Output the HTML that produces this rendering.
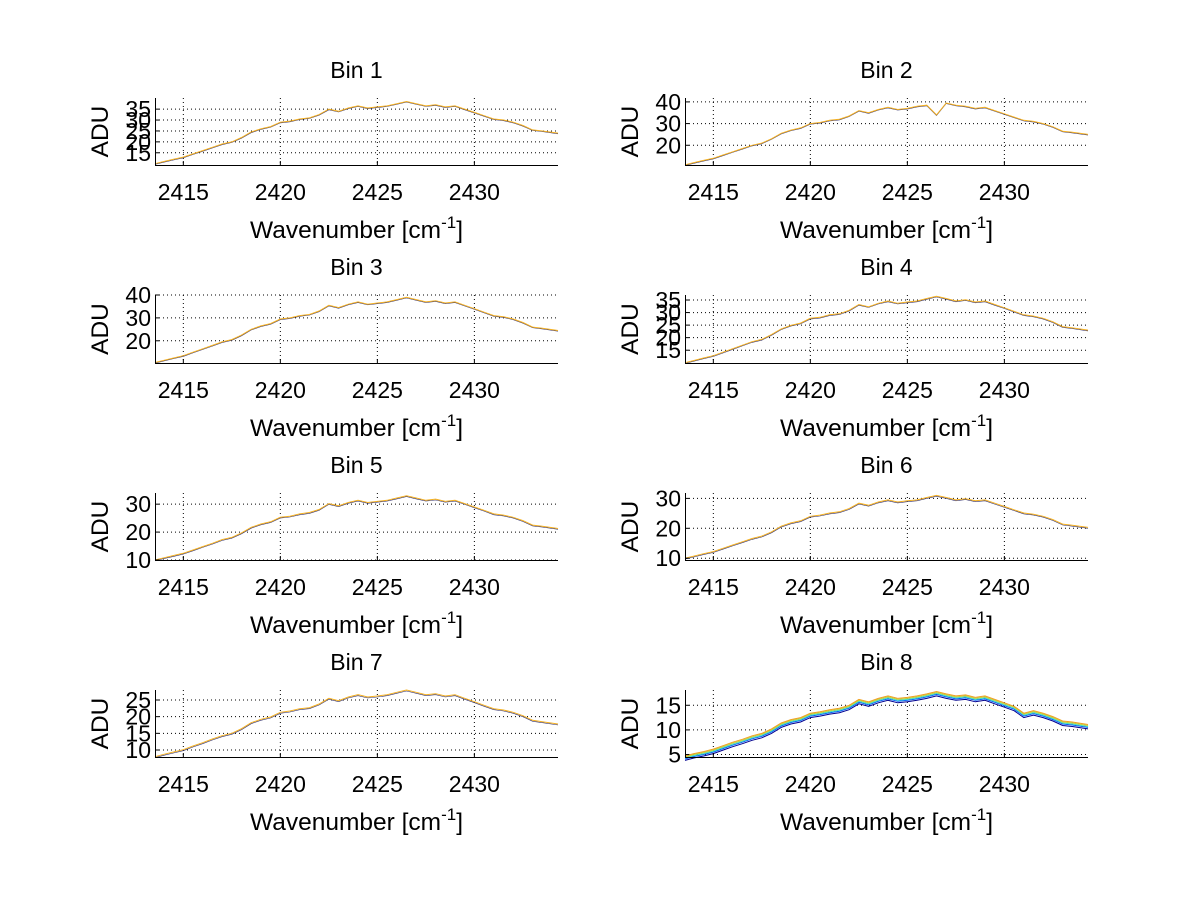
<!DOCTYPE html>
<html><head><meta charset="utf-8"><style>
html,body{margin:0;padding:0;background:#fff;}
svg{display:block;font-family:"Liberation Sans",Arial,sans-serif;}
</style></head><body>
<svg id="fig" width="1200" height="901" viewBox="0 0 1200 901"></svg>
<script>
const xs = [2413.54,2414,2414.5,2415,2415.5,2416,2416.5,2417,2417.5,2418,2418.5,2419,2419.5,2420,2420.5,2421,2421.5,2422,2422.5,2423,2423.5,2424,2424.5,2425,2425.5,2426,2426.5,2427,2427.5,2428,2428.5,2429,2429.5,2430,2430.5,2431,2431.5,2432,2432.5,2433,2433.5,2434.31];
const xTicks = [2415,2420,2425,2430];
const bin1 = [10,11,12,13,14.5,16,17.5,19,20,22,24.5,26,27,29,29.5,30.5,31,32.5,35,34,35.5,36.5,35.5,36,36.5,37.5,38.5,37.5,36.5,37,36,36.5,35,33.5,32,30.5,30,29,27.5,25.5,25,24];
const bin2 = [11,12,13,14,15.5,17,18.5,20,21,23,25.5,27,28,30,30.5,31.5,32,33.5,36,35,36.5,37.5,36.5,37,38,38.5,34,39.5,38.5,38,37,37.5,36,34.5,33,31.5,31,30,28.5,26.5,26,25];
const bin3 = [10.5,11.5,12.5,13.5,15,16.5,18,19.5,20.5,22.5,25,26.5,27.5,29.5,30,31,31.5,33,35.5,34.5,36,37,36,36.5,37,38,39,38,37,37.5,36.5,37,35.5,34,32.5,31,30.5,29.5,28,26,25.5,24.5];
const bin4 = [10,10.9,11.9,12.8,14.2,15.6,17,18.4,19.3,21.2,23.5,24.9,25.8,27.7,28.1,29.1,29.5,30.9,33.2,32.3,33.7,34.6,33.7,34.2,34.6,35.6,36.5,35.6,34.6,35.1,34.2,34.6,33.2,31.9,30.5,29.1,28.6,27.7,26.3,24.4,23.9,23];
const bin5 = [10,10.8,11.6,12.4,13.6,14.8,16,17.3,18.1,19.7,21.7,22.9,23.7,25.3,25.7,26.5,27,28.1,30.2,29.4,30.6,31.4,30.6,31,31.4,32.2,33,32.2,31.4,31.8,31,31.4,30.2,29,27.8,26.5,26.1,25.3,24.1,22.5,22.1,21.3];
const bin6 = [10,10.7,11.5,12.2,13.3,14.4,15.5,16.6,17.4,18.8,20.7,21.8,22.5,24,24.4,25.1,25.5,26.6,28.4,27.7,28.8,29.5,28.8,29.2,29.5,30.3,31,30.3,29.5,29.9,29.2,29.5,28.4,27.3,26.2,25.1,24.7,24,22.9,21.4,21,20.3];
const bin7 = [8,8.7,9.4,10.1,11.2,12.2,13.3,14.3,15,16.4,18.2,19.2,19.9,21.3,21.7,22.4,22.7,23.8,25.5,24.8,25.9,26.6,25.9,26.2,26.6,27.3,28,27.3,26.6,26.9,26.2,26.6,25.5,24.5,23.4,22.4,22,21.3,20.3,18.9,18.5,17.8];
const bin8 = [4.7,5.2,5.6,6.1,6.8,7.5,8.1,8.8,9.3,10.2,11.4,12.1,12.5,13.4,13.7,14.1,14.4,15,16.2,15.7,16.4,16.9,16.4,16.6,16.9,17.3,17.8,17.3,16.9,17.1,16.6,16.9,16.2,15.5,14.8,13.4,13.9,13.4,12.7,11.8,11.6,11.1];
const seriesOffsets = [-0.9,-0.6,-0.4,-0.2,0];
const seriesColors = ['#00008f','#0060ff','#40e0c0','#c0d040','#f0a020'];
const yMins = [9.4,10.9,10.3,9.9,10,9.4,7.9,4.5];
const yMaxs = [40.1,41.8,40,37,34,31.8,28,18.1];
const yTicks = [[15,20,25,30,35],[20,30,40],[20,30,40],[15,20,25,30,35],[10,20,30],[10,20,30],[10,15,20,25],[5,10,15]];
const bins = [bin1,bin2,bin3,bin4,bin5,bin6,bin7,bin8];
const titles = ['Bin 1','Bin 2','Bin 3','Bin 4','Bin 5','Bin 6','Bin 7','Bin 8'];

const NS='http://www.w3.org/2000/svg';
const svg=document.getElementById('fig');
function mk(tag,attrs,parent){const e=document.createElementNS(NS,tag);for(const k in attrs)e.setAttribute(k,attrs[k]);(parent||svg).appendChild(e);return e;}
const colX=[155,685], W=403, rowTop=[98,295,493,690], rowBot=[165,363,560,757];
const xMin=2413.54, xMax=2434.31;

bins.forEach((data,b)=>{
  const col=b%2, row=Math.floor(b/2);
  const L=colX[col], T=rowTop[row], B=rowBot[row];
  const xf=v=>L+(v-xMin)/(xMax-xMin)*W;
  const yf=v=>B-(v-yMins[b])/(yMaxs[b]-yMins[b])*(B-T);
  const g=mk('g',{});
  
  
  xTicks.forEach(t=>{
    const ln=mk('line',{x1:xf(t),x2:xf(t),y1:T,y2:B,stroke:'#000','stroke-width':1,'stroke-dasharray':'1 3'},g);
    
    
  });
  yTicks[b].forEach(t=>{
    const ln=mk('line',{x1:L,x2:L+W,y1:yf(t),y2:yf(t),stroke:'#000','stroke-width':1,'stroke-dasharray':'1 3'},g);
    
    
  });
  const offs = b===7 ? seriesOffsets : [-0.3,0];
  const cols = b===7 ? seriesColors : ['#303070','#f4b020'];
  const widths = b===7 ? [1,1,1,1,1] : [0.6,1];
  offs.forEach((o,si)=>{
    const pts=data.map((v,i)=>xf(xs[i]).toFixed(1)+','+yf(v+o).toFixed(1)).join(' ');
    const pl=mk('polyline',{points:pts,fill:'none',stroke:cols[si],'stroke-width':widths[si]},g);
    
    
  });
  const ax=mk('path',{d:`M${L+0.5},${T} V${B+0.5} H${L+W}`,fill:'none',stroke:'#000','stroke-width':1},g);
  
  
  xTicks.forEach(t=>{
    mk('line',{x1:xf(t),x2:xf(t),y1:B,y2:B-4,stroke:'#000'},g);
    const tx=mk('text',{x:xf(t),y:B+35,'font-size':23,'text-anchor':'middle',fill:'#000'},g);
    tx.textContent=t;
    
    
  });
  yTicks[b].forEach(t=>{
    mk('line',{x1:L,x2:L+4,y1:yf(t),y2:yf(t),stroke:'#000'},g);
    const tx=mk('text',{x:L-4,y:yf(t)+8,'font-size':23,'text-anchor':'end',fill:'#000'},g);
    tx.textContent=t;
    
    
  });
  const ti=mk('text',{x:L+W/2,y:T-20,'font-size':23,'text-anchor':'middle',fill:'#000'},g);
  ti.textContent=titles[b];
  
  
  const xl=mk('text',{x:L+W/2,y:B+73,'font-size':24.5,'text-anchor':'middle',fill:'#000'},g);
  xl.innerHTML='Wavenumber [cm<tspan dy="-10" font-size="17">-1</tspan><tspan dy="10">]</tspan>';
  
  
  const yl=mk('text',{x:0,y:0,'font-size':24.5,'text-anchor':'middle',fill:'#000',transform:`translate(${L-47},${(T+B)/2}) rotate(-90)`},g);
  yl.textContent='ADU';
  
  
});
</script>
</body></html>
